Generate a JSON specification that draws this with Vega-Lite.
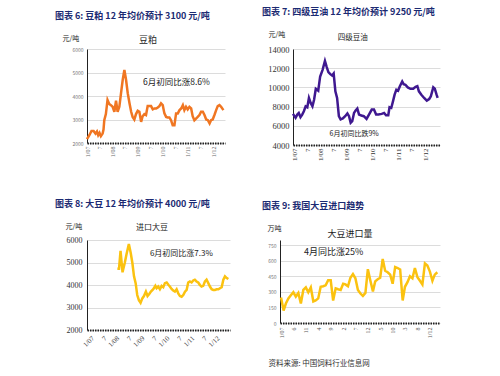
{
"$schema": "https://vega.github.io/schema/vega-lite/v6.json",
"background": "white",
"padding": {"left": 55, "top": 8, "right": 0, "bottom": 0},
"bounds": "flush",
"spacing": 191,
"config": {"view": {"stroke": null}, "font": "Noto Sans CJK SC", "axis": {"tickCount": 30}},
"vconcat": [
{"hconcat": [
{"width": 138, "height": 94,
 "title": {"text": "图表 6:  豆粕 12 年均价预计 3100 元/吨", "anchor": "start", "frame": "group", "dx": -32, "fontSize": 9, "fontWeight": "bold", "color": "#1b2a72", "offset": 13},
 "layer": [
   {"data": {"values": [
{"d":"2007/01/01","v":2160},{"d":"2007/02/04","v":2330},{"d":"2007/03/07","v":2510},{"d":"2007/04/06","v":2510},{"d":"2007/05/04","v":2400},{"d":"2007/05/25","v":2490},{"d":"2007/06/12","v":2330},{"d":"2007/07/01","v":2430},{"d":"2007/07/21","v":2290},{"d":"2007/08/15","v":2400},{"d":"2007/08/28","v":2570},{"d":"2007/09/08","v":2970},{"d":"2007/10/01","v":3230},{"d":"2007/10/25","v":3830},{"d":"2007/11/19","v":3660},{"d":"2007/12/13","v":3610},{"d":"2008/01/07","v":3540},{"d":"2008/02/01","v":3330},{"d":"2008/02/25","v":3800},{"d":"2008/03/19","v":3330},{"d":"2008/04/13","v":3540},{"d":"2008/05/07","v":4110},{"d":"2008/06/01","v":4690},{"d":"2008/06/25","v":5110},{"d":"2008/07/19","v":4690},{"d":"2008/08/13","v":4110},{"d":"2008/09/07","v":3690},{"d":"2008/10/01","v":3330},{"d":"2008/10/22","v":3110},{"d":"2008/11/16","v":3000},{"d":"2008/12/10","v":3230},{"d":"2009/01/04","v":3370},{"d":"2009/01/28","v":3330},{"d":"2009/02/22","v":2900},{"d":"2009/03/16","v":3140},{"d":"2009/04/10","v":3230},{"d":"2009/05/04","v":3190},{"d":"2009/05/28","v":3570},{"d":"2009/06/22","v":3570},{"d":"2009/07/16","v":3570},{"d":"2009/08/10","v":3430},{"d":"2009/09/04","v":3470},{"d":"2009/09/28","v":3470},{"d":"2009/10/22","v":3510},{"d":"2009/11/13","v":3570},{"d":"2009/12/07","v":3690},{"d":"2010/01/01","v":3610},{"d":"2010/01/25","v":3260},{"d":"2010/02/19","v":3110},{"d":"2010/03/13","v":3090},{"d":"2010/04/07","v":3090},{"d":"2010/05/01","v":2970},{"d":"2010/05/25","v":2760},{"d":"2010/06/19","v":2760},{"d":"2010/07/13","v":3260},{"d":"2010/08/07","v":3260},{"d":"2010/09/01","v":3400},{"d":"2010/09/25","v":3470},{"d":"2010/10/19","v":3610},{"d":"2010/11/10","v":3400},{"d":"2010/12/04","v":3540},{"d":"2010/12/28","v":3430},{"d":"2011/01/22","v":3540},{"d":"2011/02/16","v":3470},{"d":"2011/03/10","v":3140},{"d":"2011/04/04","v":2970},{"d":"2011/04/28","v":3040},{"d":"2011/05/22","v":3110},{"d":"2011/06/16","v":3190},{"d":"2011/07/10","v":3330},{"d":"2011/08/04","v":3330},{"d":"2011/08/28","v":3190},{"d":"2011/09/22","v":3000},{"d":"2011/10/16","v":2970},{"d":"2011/11/10","v":2830},{"d":"2011/12/01","v":2970},{"d":"2011/12/25","v":3000},{"d":"2012/01/19","v":3190},{"d":"2012/02/13","v":3400},{"d":"2012/03/07","v":3570},{"d":"2012/04/01","v":3610},{"d":"2012/04/25","v":3540},{"d":"2012/05/28","v":3400}
   ]},
    "mark": {"type": "line", "color": "#f07622", "strokeWidth": 2.5},
    "encoding": {
     "x": {"field": "d", "type": "temporal",
      "scale": {"domain": [{"year": 2007, "month": 1, "date": 1}, {"year": 2012, "month": 6, "date": 20}]},
      "axis": {"values": [{"year":2007,"month":1,"date":1},{"year":2007,"month":7,"date":1},{"year":2008,"month":1,"date":1},{"year":2008,"month":7,"date":1},{"year":2009,"month":1,"date":1},{"year":2009,"month":7,"date":1},{"year":2010,"month":1,"date":1},{"year":2010,"month":7,"date":1},{"year":2011,"month":1,"date":1},{"year":2011,"month":7,"date":1},{"year":2012,"month":1,"date":1}],
       "tickCount": 30, "labelExpr": "month(datum.value) == 0 ? '1/' + timeFormat(datum.value, '%y') : '7'",
       "labelAngle": -90, "labelFontSize": 6, "labelColor": "#666", "labelFont": "Liberation Serif", "labelFlush": false, "labelOverlap": false, "labelBound": false, "labelPadding": 3,
       "title": null, "grid": false, "ticks": false, "domainColor": "#222", "domainWidth": 2, "domainDash": [1.5, 1]}},
     "y": {"field": "v", "type": "quantitative",
      "scale": {"domain": [2000, 6000]},
      "axis": {"values": [2000, 3000, 4000, 5000, 6000], "tickCount": 30, "format": "d", "labelFontSize": 5, "labelColor": "#777", "labelPadding": 4, "labelOverlap": false,
       "ticks": false, "domainColor": "#222", "gridColor": "#dcdcdc",
       "title": "元/吨", "titleAngle": 0, "titleX": -25, "titleY": -11, "titleAlign": "left", "titleBaseline": "middle", "titleFontSize": 7, "titleFontWeight": "normal", "titleColor": "#222"}}
    }},
   {"data": {"values": [{"d": "2009/06/01", "v": 6383, "t": "豆粕"}]},
    "mark": {"type": "text", "align": "center", "baseline": "middle", "fontSize": 9, "color": "#222"},
    "encoding": {"x": {"field": "d", "type": "temporal"}, "y": {"field": "v", "type": "quantitative"}, "text": {"field": "t"}}},
   {"data": {"values": [{"d": "2009/03/21", "v": 4600, "t": "6月初同比涨8.6%"}]},
    "mark": {"type": "text", "align": "left", "baseline": "middle", "fontSize": 8.5, "color": "#222"},
    "encoding": {"x": {"field": "d", "type": "temporal"}, "y": {"field": "v", "type": "quantitative"}, "text": {"field": "t"}}}
 ]
},
{"width": 147, "height": 96,
 "title": {"text": "图表 7:  四级豆油 12 年均价预计 9250 元/吨", "anchor": "start", "frame": "group", "dx": -31, "fontSize": 9, "fontWeight": "bold", "color": "#1b2a72", "offset": 13},
 "layer": [
   {"data": {"values": [
{"d":"2006/12/10","v":7240},{"d":"2007/01/15","v":6830},{"d":"2007/02/08","v":7170},{"d":"2007/03/01","v":7340},{"d":"2007/03/25","v":6900},{"d":"2007/04/18","v":7170},{"d":"2007/05/11","v":7520},{"d":"2007/06/05","v":8030},{"d":"2007/06/28","v":7930},{"d":"2007/07/21","v":8900},{"d":"2007/08/14","v":8380},{"d":"2007/09/08","v":8030},{"d":"2007/10/01","v":8720},{"d":"2007/10/25","v":9860},{"d":"2007/11/28","v":9660},{"d":"2007/12/25","v":11140},{"d":"2008/01/28","v":11830},{"d":"2008/03/01","v":12760},{"d":"2008/03/24","v":12170},{"d":"2008/04/18","v":11590},{"d":"2008/05/15","v":11380},{"d":"2008/06/09","v":11240},{"d":"2008/07/01","v":11450},{"d":"2008/07/25","v":9590},{"d":"2008/08/18","v":8900},{"d":"2008/09/12","v":7000},{"d":"2008/10/06","v":6660},{"d":"2008/11/06","v":6760},{"d":"2008/12/09","v":7000},{"d":"2009/01/09","v":7280},{"d":"2009/02/01","v":7000},{"d":"2009/02/24","v":6310},{"d":"2009/03/18","v":6480},{"d":"2009/04/12","v":7340},{"d":"2009/05/04","v":7590},{"d":"2009/05/28","v":7790},{"d":"2009/06/21","v":7170},{"d":"2009/07/24","v":7070},{"d":"2009/08/27","v":7000},{"d":"2009/10/04","v":6720},{"d":"2009/11/07","v":7170},{"d":"2009/12/16","v":7690},{"d":"2010/01/16","v":7690},{"d":"2010/02/15","v":7170},{"d":"2010/03/19","v":7170},{"d":"2010/05/04","v":7240},{"d":"2010/06/07","v":7340},{"d":"2010/07/04","v":7100},{"d":"2010/08/04","v":7100},{"d":"2010/08/22","v":7930},{"d":"2010/09/15","v":7860},{"d":"2010/10/09","v":8550},{"d":"2010/11/01","v":9240},{"d":"2010/11/25","v":9760},{"d":"2010/12/19","v":9660},{"d":"2011/01/12","v":10100},{"d":"2011/02/15","v":10620},{"d":"2011/03/07","v":10340},{"d":"2011/04/01","v":10280},{"d":"2011/05/04","v":10000},{"d":"2011/06/10","v":9860},{"d":"2011/07/19","v":9860},{"d":"2011/08/22","v":10070},{"d":"2011/09/15","v":10140},{"d":"2011/10/07","v":9590},{"d":"2011/11/10","v":9240},{"d":"2011/12/19","v":8900},{"d":"2012/01/25","v":8620},{"d":"2012/02/28","v":8790},{"d":"2012/03/22","v":9070},{"d":"2012/04/25","v":10000},{"d":"2012/05/16","v":9860},{"d":"2012/06/10","v":9240},{"d":"2012/06/25","v":8900}
   ]},
    "mark": {"type": "line", "color": "#3f1890", "strokeWidth": 2.5},
    "encoding": {
     "x": {"field": "d", "type": "temporal",
      "scale": {"domain": [{"year": 2006, "month": 12, "date": 10}, {"year": 2012, "month": 7, "date": 28}]},
      "axis": {"values": [{"year":2007,"month":1,"date":1},{"year":2007,"month":7,"date":1},{"year":2008,"month":1,"date":1},{"year":2008,"month":7,"date":1},{"year":2009,"month":1,"date":1},{"year":2009,"month":7,"date":1},{"year":2010,"month":1,"date":1},{"year":2010,"month":7,"date":1},{"year":2011,"month":1,"date":1},{"year":2011,"month":7,"date":1},{"year":2012,"month":1,"date":1}],
       "tickCount": 30, "labelExpr": "month(datum.value) == 0 ? '1/' + timeFormat(datum.value, '%y') : '7'",
       "labelAngle": -90, "labelFontSize": 7, "labelColor": "#333", "labelFont": "Liberation Serif", "labelFlush": false, "labelOverlap": false, "labelBound": false, "labelPadding": 3,
       "title": null, "grid": false, "ticks": false, "domainColor": "#222", "domainWidth": 2, "domainDash": [1.5, 1]}},
     "y": {"field": "v", "type": "quantitative",
      "scale": {"domain": [4000, 14000]},
      "axis": {"values": [4000, 6000, 8000, 10000, 12000, 14000], "tickCount": 30, "format": "d", "labelFontSize": 8.5, "labelColor": "#333", "labelFont": "Liberation Serif", "labelPadding": 4, "labelOverlap": false,
       "ticks": false, "domainColor": "#222", "gridColor": "#dcdcdc",
       "title": "元/吨", "titleAngle": 0, "titleX": -25, "titleY": -15, "titleAlign": "left", "titleBaseline": "middle", "titleFontSize": 7, "titleFontWeight": "normal", "titleColor": "#222"}}
    }},
   {"data": {"values": [{"d": "2009/03/25", "v": 15146, "t": "四级豆油"}]},
    "mark": {"type": "text", "align": "center", "baseline": "middle", "fontSize": 7.5, "color": "#222"},
    "encoding": {"x": {"field": "d", "type": "temporal"}, "y": {"field": "v", "type": "quantitative"}, "text": {"field": "t"}}},
   {"data": {"values": [{"d": "2008/05/04", "v": 5150, "t": "6月初同比跌9%"}]},
    "mark": {"type": "text", "align": "left", "baseline": "middle", "fontSize": 7, "color": "#222"},
    "encoding": {"x": {"field": "d", "type": "temporal"}, "y": {"field": "v", "type": "quantitative"}, "text": {"field": "t"}}}
 ]
}
], "spacing": 68, "bounds": "flush"},
{"hconcat": [
{"width": 143, "height": 90,
 "title": {"text": "图表 8:  大豆 12 年均价预计 4000 元/吨", "anchor": "start", "frame": "group", "dx": -32, "fontSize": 9, "fontWeight": "bold", "color": "#1b2a72", "offset": 13},
 "layer": [
   {"data": {"values": [
{"d":"2008/02/04","v":4717},{"d":"2008/02/28","v":4717},{"d":"2008/03/21","v":5517},{"d":"2008/04/19","v":4566},{"d":"2008/05/22","v":4990},{"d":"2008/06/16","v":5366},{"d":"2008/07/20","v":5819},{"d":"2008/08/15","v":5440},{"d":"2008/09/09","v":4990},{"d":"2008/10/03","v":4385},{"d":"2008/10/27","v":4083},{"d":"2008/11/19","v":3555},{"d":"2008/12/13","v":3328},{"d":"2009/01/07","v":3208},{"d":"2009/02/01","v":3404},{"d":"2009/02/25","v":3509},{"d":"2009/03/25","v":3706},{"d":"2009/04/18","v":3509},{"d":"2009/05/13","v":3600},{"d":"2009/06/06","v":3706},{"d":"2009/07/10","v":3811},{"d":"2009/08/10","v":3962},{"d":"2009/08/28","v":3857},{"d":"2009/09/21","v":3932},{"d":"2009/10/15","v":3811},{"d":"2009/11/09","v":3962},{"d":"2009/12/03","v":3902},{"d":"2009/12/27","v":4083},{"d":"2010/01/21","v":4113},{"d":"2010/02/15","v":4008},{"d":"2010/03/09","v":3932},{"d":"2010/04/03","v":3826},{"d":"2010/04/27","v":3751},{"d":"2010/05/21","v":3706},{"d":"2010/06/15","v":3811},{"d":"2010/07/09","v":3630},{"d":"2010/08/03","v":3509},{"d":"2010/08/27","v":3479},{"d":"2010/09/20","v":3555},{"d":"2010/10/15","v":3706},{"d":"2010/11/08","v":3781},{"d":"2010/12/01","v":4113},{"d":"2010/12/25","v":4158},{"d":"2011/01/19","v":4113},{"d":"2011/02/12","v":4204},{"d":"2011/03/07","v":4234},{"d":"2011/04/01","v":4158},{"d":"2011/04/25","v":4113},{"d":"2011/05/19","v":4008},{"d":"2011/06/13","v":3932},{"d":"2011/07/07","v":3962},{"d":"2011/08/01","v":4158},{"d":"2011/08/25","v":4234},{"d":"2011/09/19","v":4083},{"d":"2011/10/13","v":3932},{"d":"2011/11/07","v":3811},{"d":"2011/12/01","v":3781},{"d":"2011/12/25","v":3781},{"d":"2012/01/19","v":3811},{"d":"2012/02/13","v":3811},{"d":"2012/03/07","v":3857},{"d":"2012/04/01","v":3902},{"d":"2012/04/25","v":4234},{"d":"2012/05/19","v":4385},{"d":"2012/06/13","v":4310},{"d":"2012/07/07","v":4264}
   ]},
    "mark": {"type": "line", "color": "#fbc210", "strokeWidth": 2.5},
    "encoding": {
     "x": {"field": "d", "type": "temporal",
      "scale": {"domain": [{"year": 2006, "month": 11, "date": 19}, {"year": 2012, "month": 7, "date": 31}]},
      "axis": {"values": [{"year":2007,"month":1,"date":1},{"year":2007,"month":7,"date":1},{"year":2008,"month":1,"date":1},{"year":2008,"month":7,"date":1},{"year":2009,"month":1,"date":1},{"year":2009,"month":7,"date":1},{"year":2010,"month":1,"date":1},{"year":2010,"month":7,"date":1},{"year":2011,"month":1,"date":1},{"year":2011,"month":7,"date":1},{"year":2012,"month":1,"date":1}],
       "tickCount": 30, "labelExpr": "month(datum.value) == 0 ? '1/' + timeFormat(datum.value, '%y') : '7'",
       "labelAngle": -45, "labelFontSize": 7, "labelColor": "#444", "labelFont": "Liberation Serif", "labelFlush": false, "labelOverlap": false, "labelBound": false, "labelPadding": 4,
       "title": null, "grid": false, "ticks": false, "domainColor": "#222", "domainWidth": 2, "domainDash": [1.5, 1]}},
     "y": {"field": "v", "type": "quantitative",
      "scale": {"domain": [2000, 6000]},
      "axis": {"values": [2000, 3000, 4000, 5000, 6000], "tickCount": 30, "format": "d", "labelFontSize": 8, "labelColor": "#333", "labelFont": "Liberation Serif", "labelPadding": 5, "labelOverlap": false,
       "ticks": false, "domainColor": "#222", "gridColor": "#dcdcdc",
       "title": "元/吨", "titleAngle": 0, "titleX": -22, "titleY": -14, "titleAlign": "left", "titleBaseline": "middle", "titleFontSize": 7, "titleFontWeight": "normal", "titleColor": "#222"}}
    }},
   {"data": {"values": [{"d": "2009/06/21", "v": 6533, "t": "进口大豆"}]},
    "mark": {"type": "text", "align": "center", "baseline": "middle", "fontSize": 8, "color": "#222"},
    "encoding": {"x": {"field": "d", "type": "temporal"}, "y": {"field": "v", "type": "quantitative"}, "text": {"field": "t"}}},
   {"data": {"values": [{"d": "2009/05/22", "v": 5380, "t": "6月初同比涨7.3%"}]},
    "mark": {"type": "text", "align": "left", "baseline": "middle", "fontSize": 8, "color": "#222"},
    "encoding": {"x": {"field": "d", "type": "temporal"}, "y": {"field": "v", "type": "quantitative"}, "text": {"field": "t"}}}
 ]
},
{"width": 160, "height": 83,
 "title": {"text": "图表 9:  我国大豆进口趋势", "anchor": "start", "frame": "group", "dx": -18, "fontSize": 9, "fontWeight": "bold", "color": "#1b2a72", "offset": 13},
 "layer": [
   {"data": {"values": [
{"d":"2007/01/01","v":246},{"d":"2007/02/01","v":120},{"d":"2007/03/01","v":188},{"d":"2007/04/01","v":237},{"d":"2007/05/01","v":267},{"d":"2007/06/01","v":296},{"d":"2007/07/01","v":255},{"d":"2007/08/01","v":290},{"d":"2007/09/01","v":188},{"d":"2007/10/01","v":319},{"d":"2007/11/01","v":343},{"d":"2007/12/01","v":296},{"d":"2008/01/01","v":343},{"d":"2008/02/01","v":208},{"d":"2008/03/01","v":217},{"d":"2008/04/01","v":237},{"d":"2008/05/01","v":349},{"d":"2008/06/01","v":354},{"d":"2008/07/01","v":363},{"d":"2008/08/01","v":413},{"d":"2008/09/01","v":413},{"d":"2008/10/01","v":217},{"d":"2008/11/01","v":334},{"d":"2008/12/01","v":325},{"d":"2009/01/01","v":319},{"d":"2009/02/01","v":378},{"d":"2009/03/01","v":372},{"d":"2009/04/01","v":354},{"d":"2009/05/01","v":436},{"d":"2009/06/01","v":472},{"d":"2009/07/01","v":431},{"d":"2009/08/01","v":319},{"d":"2009/09/01","v":284},{"d":"2009/10/01","v":261},{"d":"2009/11/01","v":290},{"d":"2009/12/01","v":519},{"d":"2010/01/01","v":407},{"d":"2010/02/01","v":305},{"d":"2010/03/01","v":401},{"d":"2010/04/01","v":422},{"d":"2010/05/01","v":436},{"d":"2010/06/01","v":618},{"d":"2010/07/01","v":504},{"d":"2010/08/01","v":489},{"d":"2010/09/01","v":466},{"d":"2010/10/01","v":378},{"d":"2010/11/01","v":539},{"d":"2010/12/01","v":530},{"d":"2011/01/01","v":516},{"d":"2011/02/01","v":217},{"d":"2011/03/01","v":349},{"d":"2011/04/01","v":393},{"d":"2011/05/01","v":451},{"d":"2011/06/01","v":431},{"d":"2011/07/01","v":530},{"d":"2011/08/01","v":442},{"d":"2011/09/01","v":407},{"d":"2011/10/01","v":372},{"d":"2011/11/01","v":574},{"d":"2011/12/01","v":554},{"d":"2012/01/01","v":495},{"d":"2012/02/01","v":407},{"d":"2012/03/01","v":466},{"d":"2012/04/01","v":489}
   ]},
    "mark": {"type": "line", "color": "#fbc210", "strokeWidth": 2.5},
    "encoding": {
     "x": {"field": "d", "type": "temporal",
      "scale": {"domain": [{"year": 2006, "month": 12, "date": 19}, {"year": 2012, "month": 5, "date": 4}]},
      "axis": {"values": [{"year":2007,"month":1,"date":1},{"year":2007,"month":6,"date":1},{"year":2007,"month":11,"date":1},{"year":2008,"month":4,"date":1},{"year":2008,"month":9,"date":1},{"year":2009,"month":2,"date":1},{"year":2009,"month":7,"date":1},{"year":2009,"month":12,"date":1},{"year":2010,"month":5,"date":1},{"year":2010,"month":10,"date":1},{"year":2011,"month":3,"date":1},{"year":2011,"month":8,"date":1},{"year":2012,"month":1,"date":1}],
       "tickCount": 30, "labelExpr": "month(datum.value) == 0 ? '1/' + timeFormat(datum.value, '%y') : '' + (month(datum.value) + 1)",
       "labelAngle": -90, "labelFontSize": 6, "labelColor": "#555", "labelFont": "Liberation Serif", "labelFlush": false, "labelOverlap": false, "labelBound": false, "labelPadding": 4,
       "grid": false, "ticks": false, "domainColor": "#222", "domainWidth": 2, "domainDash": [1.5, 1],
       "title": "资料来源:  中国饲料行业信息网", "titleX": -12, "titleY": 40, "titleAlign": "left", "titleBaseline": "middle", "titleFontSize": 7.5, "titleFontWeight": "normal", "titleColor": "#333"}},
     "y": {"field": "v", "type": "quantitative",
      "scale": {"domain": [0, 750]},
      "axis": {"values": [0, 150, 300, 450, 600, 750], "tickCount": 30, "format": "d", "labelFontSize": 5, "labelColor": "#777", "labelPadding": 4, "labelOverlap": false,
       "ticks": false, "domainColor": "#222", "gridColor": "#dcdcdc",
       "title": "万吨", "titleAngle": 0, "titleX": -13, "titleY": -12, "titleAlign": "left", "titleBaseline": "middle", "titleFontSize": 7, "titleFontWeight": "normal", "titleColor": "#222"}}
    }},
   {"data": {"values": [{"d": "2009/04/25", "v": 858, "t": "大豆进口量"}]},
    "mark": {"type": "text", "align": "center", "baseline": "middle", "fontSize": 9, "color": "#222"},
    "encoding": {"x": {"field": "d", "type": "temporal"}, "y": {"field": "v", "type": "quantitative"}, "text": {"field": "t"}}},
   {"data": {"values": [{"d": "2007/10/10", "v": 685, "t": "4月同比涨25%"}]},
    "mark": {"type": "text", "align": "left", "baseline": "middle", "fontSize": 9, "color": "#222"},
    "encoding": {"x": {"field": "d", "type": "temporal"}, "y": {"field": "v", "type": "quantitative"}, "text": {"field": "t"}}}
 ]
}
], "spacing": 50, "bounds": "flush"}
]
}
